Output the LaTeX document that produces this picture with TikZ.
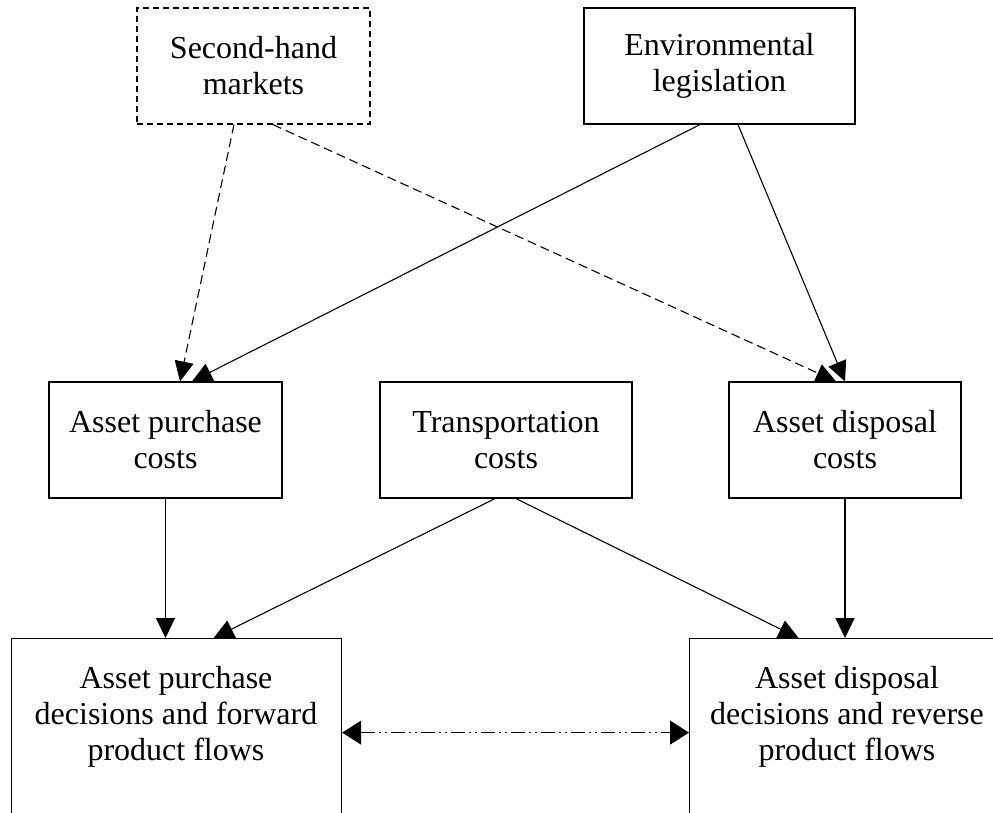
\documentclass[tikz,border=0pt]{standalone}
\usepackage{fontspec}
\setmainfont{Liberation Serif}
\usetikzlibrary{arrows.meta}
\begin{document}
\begin{tikzpicture}[x=1pt,y=-1pt,
  box/.style={draw, line width=1.2pt, inner sep=0pt, align=center, font=\fontsize{32}{36}\selectfont},
  dbox/.style={box, dash pattern=on 6pt off 4pt},
  conn/.style={line width=1.1pt, -{Triangle[length=20pt,width=19pt]}},
  dconn/.style={conn, dash pattern=on 9pt off 5pt},
  biconn/.style={line width=1.1pt, {Triangle[length=19pt,width=24pt]}-{Triangle[length=19pt,width=24pt]},
    dash pattern=on 14pt off 4pt on 2pt off 4pt on 2pt off 4pt},
  txt/.style={inner sep=0pt, align=center, font=\fontsize{32}{36}\selectfont}]
\clip (0,0) rectangle (993,812);
\node[dbox, minimum width=233, minimum height=116] (sh) at (253.5,66) {Second-hand\\markets};
\node[box, minimum width=271, minimum height=116] (env) at (719.5,66) {Environmental\\legislation};
\node[box, minimum width=233, minimum height=116] (apc) at (165.5,440) {Asset purchase\\costs};
\node[box, minimum width=252, minimum height=116] (tc) at (506,440) {Transportation\\costs};
\node[box, minimum width=232, minimum height=116] (adc) at (845,440) {Asset disposal\\costs};
\node[box, minimum width=330, minimum height=200, anchor=north west] (bl) at (11,638) {};
\node[box, minimum width=316, minimum height=200, anchor=north west] (br) at (689,638) {};
\node[txt, anchor=north] (blt) at (176,666) {Asset purchase\\decisions and forward\\product flows};
\node[txt, anchor=north] (brt) at (847,666) {Asset disposal\\decisions and reverse\\product flows};
\draw[dconn] ([xshift=-19.5pt]sh.south) -- ([xshift=14.5pt]apc.north);
\draw[dconn] ([xshift=19.5pt]sh.south) -- ([xshift=-9pt]adc.north);
\draw[conn] ([xshift=-19.5pt]env.south) -- ([xshift=26.5pt]apc.north);
\draw[conn] ([xshift=18.5pt]env.south) -- (adc.north);
\draw[conn] (apc.south) -- (apc.south |- bl.north);
\draw[conn] ([xshift=-11pt]tc.south) -- ([xshift=37pt]bl.north);
\draw[conn] ([xshift=10pt]tc.south) -- ([xshift=-49pt]br.north);
\draw[conn] (adc.south) -- (adc.south |- br.north);
\draw[biconn] ([yshift=6pt]bl.east) -- ([yshift=6pt]br.west);
\end{tikzpicture}
\end{document}
